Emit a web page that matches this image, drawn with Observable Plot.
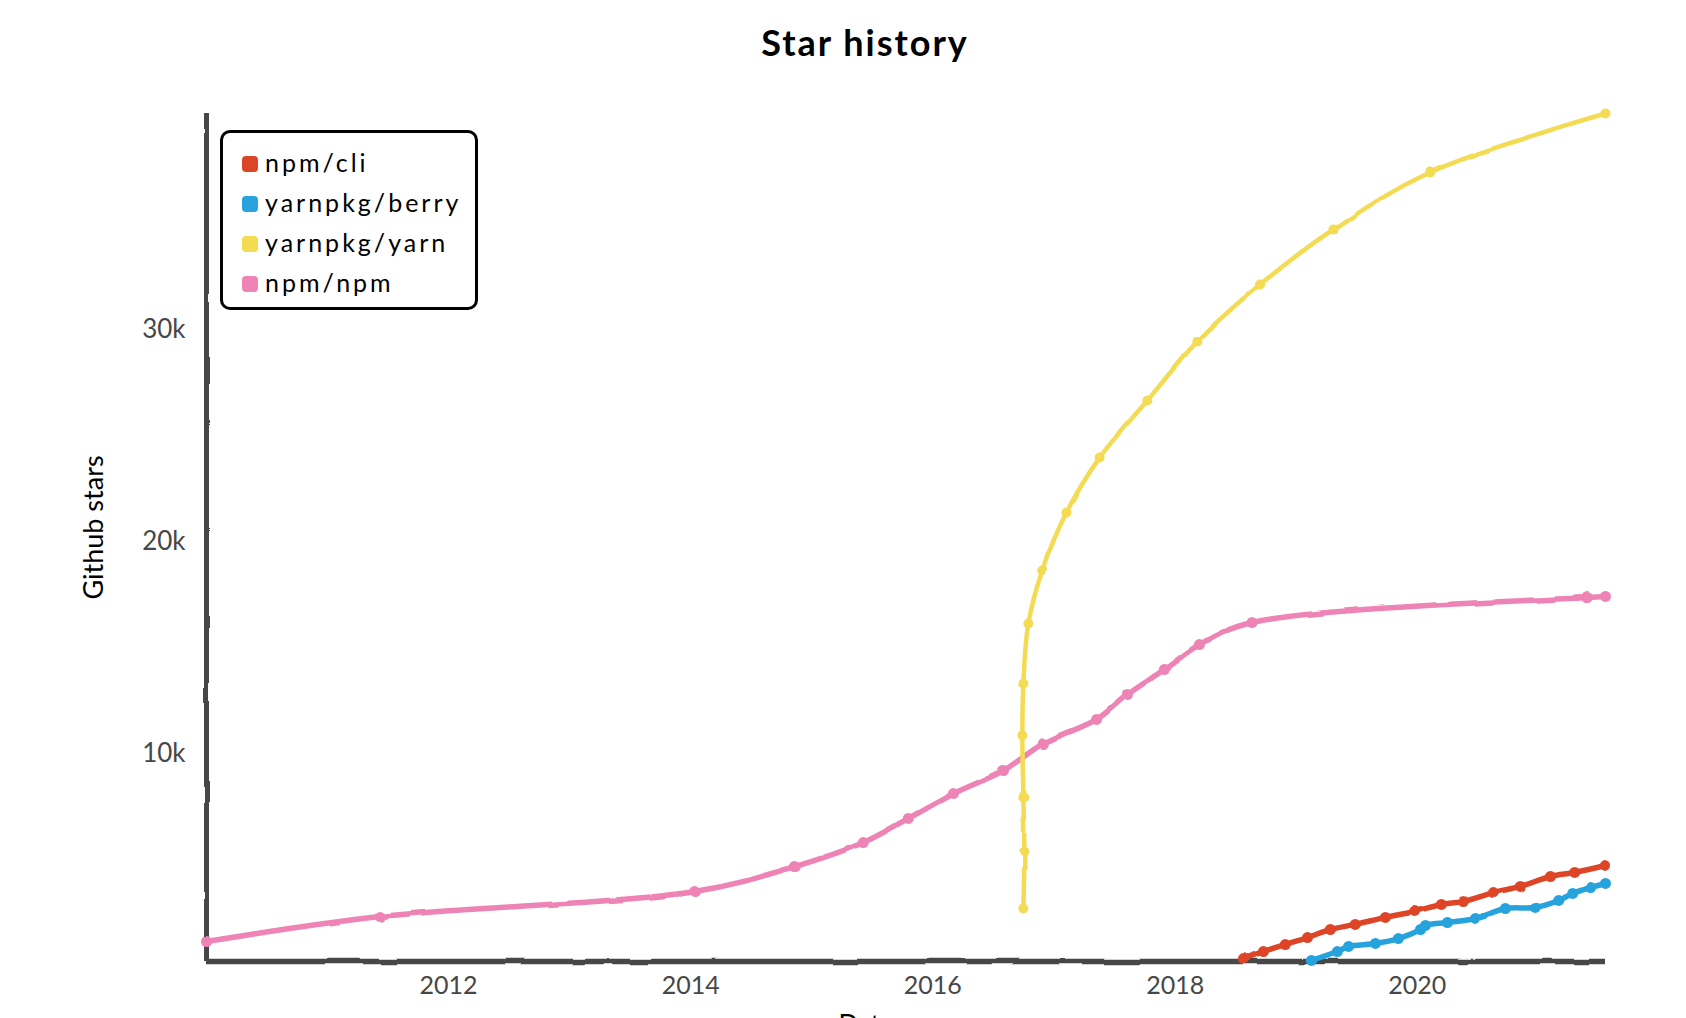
<!DOCTYPE html>
<html>
<head>
<meta charset="utf-8">
<script src="https://cdn.jsdelivr.net/npm/d3@7"></script>
<script src="https://cdn.jsdelivr.net/npm/@observablehq/plot@0.6"></script>
<style>
  body { margin: 0; background: #fff; }
  #wrap { position: relative; width: 1686px; height: 1018px; overflow: hidden; font-family: Lato, "Noto Sans", sans-serif; }
  #title { height: 80px; box-sizing: border-box; padding-left: 44px; text-align: center; font-size: 36px; font-weight: 700; line-height: 84px; color: #000; letter-spacing: 2px; }
  #legend { position: absolute; left: 220px; top: 130px; width: 258px; height: 180px; box-sizing: border-box; border: 3px solid #000; border-radius: 10px; background: #fff; }
  .item { position: absolute; left: 19px; height: 40px; line-height: 40px; font-size: 25px; letter-spacing: 3px; color: #000; white-space: nowrap; }
  .sw { display: inline-block; width: 16px; height: 16px; border-radius: 4px; vertical-align: middle; margin-right: 7px; position: relative; top: -2px; }
  svg { display: block; }
</style>
</head>
<body>
<div id="wrap">
  <div id="title">Star history</div>
  <div id="chart"></div>
  <div id="legend"></div>
</div>
<script>
// ---- data ----
const seriesNames = ["npm/cli", "yarnpkg/berry", "yarnpkg/yarn", "npm/npm"];
const seriesColors = ["#dd4528", "#28a3dd", "#f3db52", "#ed84b5"];

const npmCliDates = ["2018-07-26","2018-09-24","2018-11-29","2019-02-04","2019-04-14","2019-06-28","2019-09-27","2019-12-24","2020-03-14","2020-05-19","2020-08-18","2020-11-07","2021-02-06","2021-04-20","2021-07-22"];
const npmCliStars = [140, 470, 800, 1130, 1510, 1750, 2080, 2360, 2690, 2830, 3250, 3540, 4010, 4200, 4530];

const berryDates = ["2019-02-16","2019-05-05","2019-06-08","2019-08-28","2019-11-05","2020-01-11","2020-01-26","2020-04-01","2020-06-25","2020-09-23","2020-12-22","2021-03-03","2021-04-14","2021-06-07","2021-07-22"];
const berryStars = [50, 470, 710, 850, 1080, 1510, 1700, 1840, 2030, 2500, 2550, 2880, 3210, 3490, 3680];

const yarnDates = ["2016-09-30","2016-10-03","2016-09-30","2016-09-27","2016-09-30","2016-10-15","2016-11-26","2017-02-07","2017-05-18","2017-10-09","2018-03-09","2018-09-14","2019-04-23","2020-02-09","2021-07-22"];
const yarnStars = [2500, 5190, 7740, 10660, 13110, 15940, 18440, 21180, 23770, 26460, 29250, 31930, 34530, 37220, 40000];

const npmNpmDates = ["2010-01-01","2011-06-09","2014-01-12","2014-11-12","2015-06-05","2015-10-19","2016-03-03","2016-08-01","2016-11-29","2017-05-09","2017-08-10","2017-11-29","2018-03-15","2018-08-21","2021-05-28","2021-07-22"];
const npmNpmStars = [940, 2120, 3300, 4480, 5610, 6750, 7920, 9010, 10280, 11420, 12590, 13770, 14950, 15990, 17170, 17220];

const xTickLabels = ["2012", "2014", "2016", "2018", "2020"];
const yTickValues = [10000, 20000, 30000];
const yTickLabels = ["10k", "20k", "30k"];
const xAxisTitle = "Date";
const yAxisTitle = "Github stars";

// ---- build table ----
const seriesDates = [npmCliDates, berryDates, yarnDates, npmNpmDates];
const seriesStars = [npmCliStars, berryStars, yarnStars, npmNpmStars];
const rows = seriesNames.flatMap((name, i) =>
  seriesDates[i].map((d, j) => ({ series: name, date: new Date(d + "T00:00:00Z"), stars: seriesStars[i][j] }))
);
const thin = "yarnpkg/yarn";
const rowsThick = rows.filter(d => d.series !== thin);
const rowsThin = rows.filter(d => d.series === thin);
const xDomain = d3.extent(rows, d => d.date);
const yDomain = [0, d3.max(rows, d => d.stars)];
const xTicks = xTickLabels.map(y => ({ date: new Date(y + "-01-01T00:00:00Z"), label: y }));
const yTicks = yTickValues.map((v, i) => ({ v, label: yTickLabels[i] }));

const axisColor = "#474747";
const font = "Lato, 'Noto Sans', sans-serif";

const chart = Plot.plot({
  width: 1686,
  height: 938,
  marginLeft: 206,
  marginRight: 81,
  marginTop: 33,
  marginBottom: 57,
  style: { fontFamily: font, background: "white", overflow: "visible" },
  x: { type: "utc", domain: xDomain, axis: null },
  y: { domain: yDomain, axis: null },
  color: { domain: seriesNames, range: seriesColors },
  marks: [
    Plot.ruleX([xDomain[0]], { stroke: axisColor, strokeWidth: 5 }),
    Plot.ruleY([0], { stroke: axisColor, strokeWidth: 5.5 }),
    Plot.line(rowsThick, { x: "date", y: "stars", z: "series", stroke: "series", strokeWidth: 5.5, curve: "catmull-rom" }),
    Plot.line(rowsThin, { x: "date", y: "stars", z: "series", stroke: "series", strokeWidth: 4.5, curve: "catmull-rom" }),
    Plot.dot(rowsThick, { x: "date", y: "stars", fill: "series", r: 5.5, stroke: "none" }),
    Plot.dot(rowsThin, { x: "date", y: "stars", fill: "series", r: 5, stroke: "none" }),
    Plot.text(xTicks, { x: "date", text: "label", frameAnchor: "bottom", lineAnchor: "top", dy: 15, fontSize: 25, fill: axisColor }),
    Plot.text(yTicks, { y: "v", text: "label", frameAnchor: "left", textAnchor: "end", dx: -21, dy: 4, fontSize: 26, fill: axisColor }),
    Plot.text([yAxisTitle], { frameAnchor: "left", textAnchor: "middle", dx: -112, dy: -10, rotate: -90, fontSize: 27, fill: "#000", letterSpacing: "4px" }),
    Plot.text([xAxisTitle], { frameAnchor: "bottom", textAnchor: "middle", dx: -40, dy: 54, lineAnchor: "top", fontSize: 26, fill: "#000", letterSpacing: "2px" })
  ]
});
document.getElementById("chart").appendChild(chart);

// hand-drawn wobble like the original
const ns = "http://www.w3.org/2000/svg";
const defs = document.createElementNS(ns, "defs");
defs.innerHTML = '<filter id="xkcdify" filterUnits="userSpaceOnUse" x="-5" y="-5" width="100%" height="100%">' +
  '<feTurbulence type="fractalNoise" baseFrequency="0.03" result="noise"/>' +
  '<feDisplacementMap scale="3" xChannelSelector="R" yChannelSelector="G" in="SourceGraphic" in2="noise"/></filter>';
chart.insertBefore(defs, chart.firstChild);
chart.querySelectorAll('g[aria-label="rule"], g[aria-label="line"], g[aria-label="dot"]').forEach(g => g.setAttribute("filter", "url(#xkcdify)"));

// legend
const legend = document.getElementById("legend");
seriesNames.forEach((name, i) => {
  const it = document.createElement("div");
  it.className = "item";
  it.style.top = (9 + i * 40) + "px";
  const sw = document.createElement("span");
  sw.className = "sw";
  sw.style.background = seriesColors[i];
  it.appendChild(sw);
  it.appendChild(document.createTextNode(name));
  legend.appendChild(it);
});
</script>
</body>
</html>
